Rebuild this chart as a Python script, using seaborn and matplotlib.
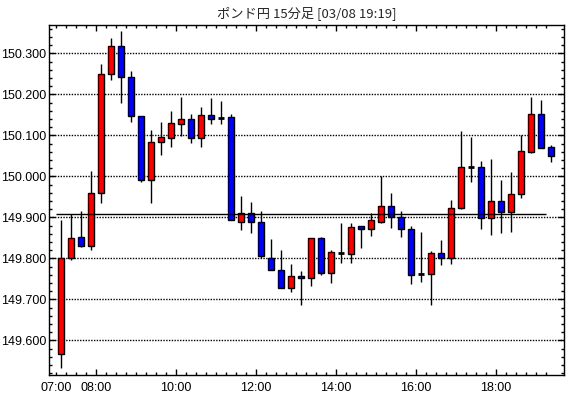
import numpy as np
import pandas as pd
import matplotlib
matplotlib.use("Agg")
import matplotlib.pyplot as plt
import matplotlib.dates as mdates
from matplotlib.ticker import MultipleLocator, FixedLocator, FormatStrFormatter
import seaborn as sns

sns.set_style("ticks")
plt.rcParams['font.family'] = ['Liberation Sans Narrow', 'Liberation Sans', 'DejaVu Sans']

# 15分足 (07:00 - 19:15)
opens = [149.567, 149.802, 149.851, 149.831, 149.959, 150.249, 150.317, 150.243, 150.148, 149.992,
         150.085, 150.094, 150.127, 150.139, 150.093, 150.149, 150.143, 150.144, 149.888, 149.910,
         149.888, 149.802, 149.771, 149.727, 149.757, 149.751, 149.849, 149.763, 149.814, 149.811,
         149.878, 149.872, 149.889, 149.927, 149.900, 149.871, 149.761, 149.761, 149.812, 149.800,
         149.924, 150.023, 150.022, 149.898, 149.939, 149.914, 149.958, 150.060, 150.151, 150.072]
highs = [149.894, 149.907, 149.915, 150.013, 150.274, 150.338, 150.354, 150.257, 150.148, 150.113,
         150.133, 150.160, 150.193, 150.152, 150.168, 150.190, 150.184, 150.151, 149.952, 149.937,
         149.915, 149.847, 149.820, 149.786, 149.769, 149.849, 149.851, 149.820, 149.886, 149.886,
         149.878, 149.910, 150.002, 149.959, 149.915, 149.878, 149.864, 149.818, 149.845, 149.942,
         150.111, 150.096, 150.037, 150.042, 149.991, 150.011, 150.100, 150.193, 150.186, 150.076]
lows = [149.532, 149.796, 149.828, 149.820, 149.936, 150.235, 150.180, 150.133, 149.986, 149.936,
        150.053, 150.072, 150.099, 150.082, 150.072, 150.128, 150.128, 149.893, 149.869, 149.863,
        149.800, 149.771, 149.727, 149.719, 149.685, 149.733, 149.759, 149.741, 149.789, 149.789,
        149.826, 149.855, 149.887, 149.874, 149.853, 149.738, 149.742, 149.686, 149.784, 149.786,
        149.920, 149.985, 149.872, 149.857, 149.863, 149.865, 149.948, 150.058, 150.070, 150.036]
closes = [149.802, 149.849, 149.831, 149.959, 150.249, 150.317, 150.243, 150.148, 149.992, 150.085,
          150.095, 150.129, 150.139, 150.093, 150.149, 150.141, 150.143, 149.893, 149.910, 149.888,
          149.805, 149.771, 149.727, 149.756, 149.751, 149.849, 149.763, 149.815, 149.814, 149.876,
          149.872, 149.893, 149.927, 149.900, 149.871, 149.760, 149.761, 149.812, 149.800, 149.924,
          150.022, 150.023, 149.898, 149.939, 149.914, 149.956, 150.061, 150.151, 150.070, 150.049]
ref_level = 149.907
title = "ポンド円 15分足 [03/08 19:19]"

starts = pd.date_range("2024-03-08 07:00", periods=len(opens), freq="15min")
df = pd.DataFrame({"start": starts, "open": opens, "high": highs, "low": lows, "close": closes})
df["mid"] = df["start"] + pd.Timedelta(minutes=7.5)
x = mdates.date2num(df["mid"])
step = 15 / (24 * 60)

fig = plt.figure(figsize=(5.70, 3.98), dpi=100)
ax = fig.add_axes([0.0865, 0.0578, 0.9035, 0.8802])

# wicks
ax.vlines(x, df["low"], df["high"], color="black", linewidth=1, zorder=2)

# bodies
up = df["close"] > df["open"]
down = df["close"] < df["open"]
flat = df["close"] == df["open"]
bw = step * 0.56
for mask, col in [(up, "#ff0000"), (down, "#0000ff")]:
    d = df[mask]
    lo = np.minimum(d["open"], d["close"])
    hi = np.maximum(d["open"], d["close"])
    ax.bar(x[mask.values], hi - lo, bottom=lo, width=bw, color=col,
           edgecolor="black", linewidth=1, zorder=3)
d = df[flat]
ax.hlines(d["close"], x[flat.values] - bw / 2, x[flat.values] + bw / 2,
          color="black", linewidth=2, zorder=3)

# reference line
t0 = mdates.date2num(pd.Timestamp("2024-03-08 07:00"))
t1 = mdates.date2num(pd.Timestamp("2024-03-08 19:15"))
ax.hlines(ref_level, t0, t1, color="black", linewidth=1, zorder=4)

ax.set_xlim(mdates.date2num(pd.Timestamp("2024-03-08 06:50:24")),
            mdates.date2num(pd.Timestamp("2024-03-08 19:42:50")))
ax.set_ylim(149.5154, 150.370)

major_times = pd.to_datetime(["2024-03-08 07:00", "2024-03-08 08:00", "2024-03-08 10:00",
                              "2024-03-08 12:00", "2024-03-08 14:00", "2024-03-08 16:00",
                              "2024-03-08 18:00"])
ax.xaxis.set_major_locator(FixedLocator(mdates.date2num(major_times)))
ax.xaxis.set_minor_locator(FixedLocator(mdates.date2num(starts)))
ax.xaxis.set_major_formatter(mdates.DateFormatter("%H:%M"))
ax.yaxis.set_major_locator(MultipleLocator(0.1))
ax.yaxis.set_minor_locator(MultipleLocator(0.02))
ax.yaxis.set_major_formatter(FormatStrFormatter("%.3f"))

ax.tick_params(which="both", direction="in", top=True, right=True, width=1, color="black",
               labelsize=9, labelcolor="black")
ax.tick_params(which="major", length=4.5)
ax.tick_params(which="minor", length=2.2)
ax.tick_params(axis="y", pad=2)
ax.tick_params(axis="x", pad=5)
first = ax.xaxis.get_major_ticks()[0]
first.tick1line.set_markersize(2.2)
first.tick2line.set_markersize(2.2)

ax.yaxis.grid(True, which="major", linestyle=(0, (1, 1)), color="black", linewidth=1)
ax.set_axisbelow(True)
for s in ax.spines.values():
    s.set_color("black")
    s.set_linewidth(1)

fig.text(0.5387, 1 - 13.3 / 398, title, ha="center", va="center", fontsize=9.5,
         family=["Noto Sans CJK JP", "DejaVu Sans"])

fig.savefig("out.png", dpi=100)
